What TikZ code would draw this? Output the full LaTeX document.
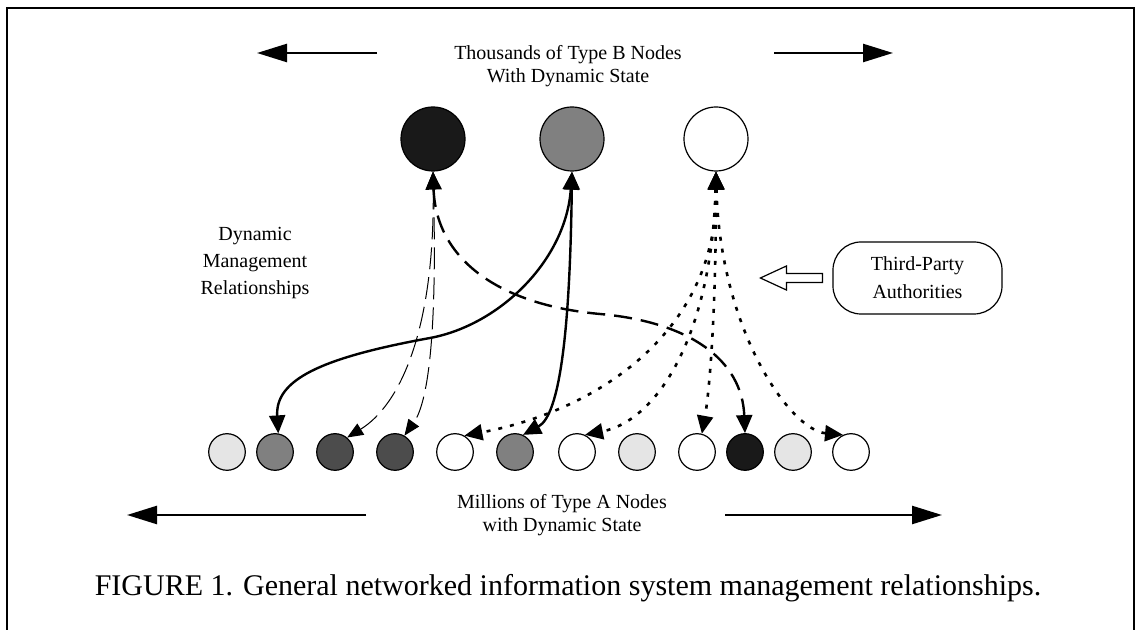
\documentclass[tikz,border=0pt]{standalone}
\usepackage{fontspec}
\setmainfont{Liberation Serif}
\usetikzlibrary{arrows.meta}

\tikzset{every picture/.style={line width=0.75pt}}
\tikzset{
  bnode/.style={circle,draw,line width=0.6pt,minimum size=32pt,inner sep=0pt},
  anode/.style={circle,draw,line width=0.6pt,minimum size=18.3pt,inner sep=0pt},
  lbl/.style={inner sep=0pt,align=center,font=\fontsize{10}{11.5}\selectfont},
  wide/.style={line width=1.25pt,-{Triangle[length=15pt,width=9pt]}},
  link/.style={{Triangle[length=9pt,width=8pt]}-{Triangle[length=9pt,width=8pt]}},
  solidlink/.style={link,line width=1.2pt},
  longdash/.style={link,line width=1.2pt,dash pattern=on 9pt off 4.5pt},
  thindash/.style={{Triangle[length=8pt,width=6.5pt]}-{Triangle[length=8pt,width=6.5pt]},line width=0.5pt,dash pattern=on 11pt off 4pt},
  dotlink/.style={link,line width=1.3pt,dash pattern=on 2pt off 4pt},
}

\begin{document}
\begin{tikzpicture}[x=0.5pt,y=0.5pt,yscale=-1,xscale=1]
		\useasboundingbox (0,0) rectangle (1136,630);

		%Shape: Frame
		\draw [line width=1pt] (7,630) -- (7,8.5) -- (1134,8.5) -- (1134,630) ;

		%Shape: Circle (type B)
		\node [bnode,fill=black!90] (b1) at (433,139) {};
		\node [bnode,fill=black!50] (b2) at (572,139) {};
		\node [bnode,fill=white] (b3) at (716,139) {};

		%Shape: Circle (type A)
		\foreach \i/\x/\c in {1/227/10,2/275/50,3/335/70,4/395/70,5/455/0,6/515/50,7/577/0,8/637/10,9/697/0,10/745/90,11/793/10,12/851/0}
			\node [anode,fill=black!\c] (a\i) at (\x,452) {};

		% Text Node
		\node [lbl] (tb) at (568,66) {Thousands of Type B Nodes\\With Dynamic State};
		% Text Node
		\node [lbl] (ta) at (562,515) {Millions of Type A Nodes\\with Dynamic State};
		% Text Node
		\node [lbl,font=\fontsize{10}{13.5}\selectfont] (dmr) at (255,263) {Dynamic\\Management\\Relationships};
		% Text Node
		\node [lbl,font=\fontsize{10}{14}\selectfont,draw,line width=0.6pt,rounded corners=14pt,minimum width=84.5pt,minimum height=36pt] (tpa) at (917.5,278) {Third-Party\\Authorities};
		% Text Node
		\node [inner sep=0pt,font=\fontsize{15}{18}\selectfont] (cap) at (568,588) {FIGURE 1. General networked information system management relationships.};

		%Straight Lines
		\coordinate (tl0) at (377,53); \coordinate (tl1) at (257,53);
		\coordinate (tr0) at (774,53); \coordinate (tr1) at (893,53);
		\coordinate (bl0) at (366,515); \coordinate (bl1) at (127,515);
		\coordinate (br0) at (725,515); \coordinate (br1) at (942,515);
		\draw [wide] (tl0) -- (tl1) ;
		\draw [wide] (tr0) -- (tr1) ;
		\draw [wide] (bl0) -- (bl1) ;
		\draw [wide] (br0) -- (br1) ;

		%Shape: Hollow Arrow
		\draw [line width=0.6pt] (tpa.west) ++(-10,-4.5) -- ++(-36,0) -- ++(0,-7.5) -- ++(-26,12) -- ++(26,12) -- ++(0,-7.5) -- ++(36,0) -- cycle ;

		%Curve Lines
		\draw [thindash] (b1.south) .. controls (435,330) and (400,405) .. (a3.50) ;
		\draw [thindash] (b1.south) .. controls (437,320) and (430,400) .. (a4.60) ;
		\draw [longdash] (b1.south) .. controls (436,260) and (500,305) .. (600,314) .. controls (690,322) and (742,360) .. (a10.north) ;
		%Curve Lines
		\draw [solidlink] (b2.south) .. controls (566,260) and (500,325) .. (430,338) .. controls (320,358) and (275,380) .. (a2.80) ;
		\draw [solidlink] (b2.south) .. controls (570,330) and (560,415) .. (a6.65) ;
		%Curve Lines
		\draw [dotlink] (b3.south) .. controls (718,330) and (600,410) .. (a5.60) ;
		\draw [dotlink] (b3.south) .. controls (712,330) and (660,420) .. (a7.65) ;
		\draw [dotlink] (b3.south) .. controls (716,330) and (708,400) .. (a9.75) ;
		\draw [dotlink] (b3.south) .. controls (720,330) and (790,430) .. (a12.115) ;

	\end{tikzpicture}
\end{document}
